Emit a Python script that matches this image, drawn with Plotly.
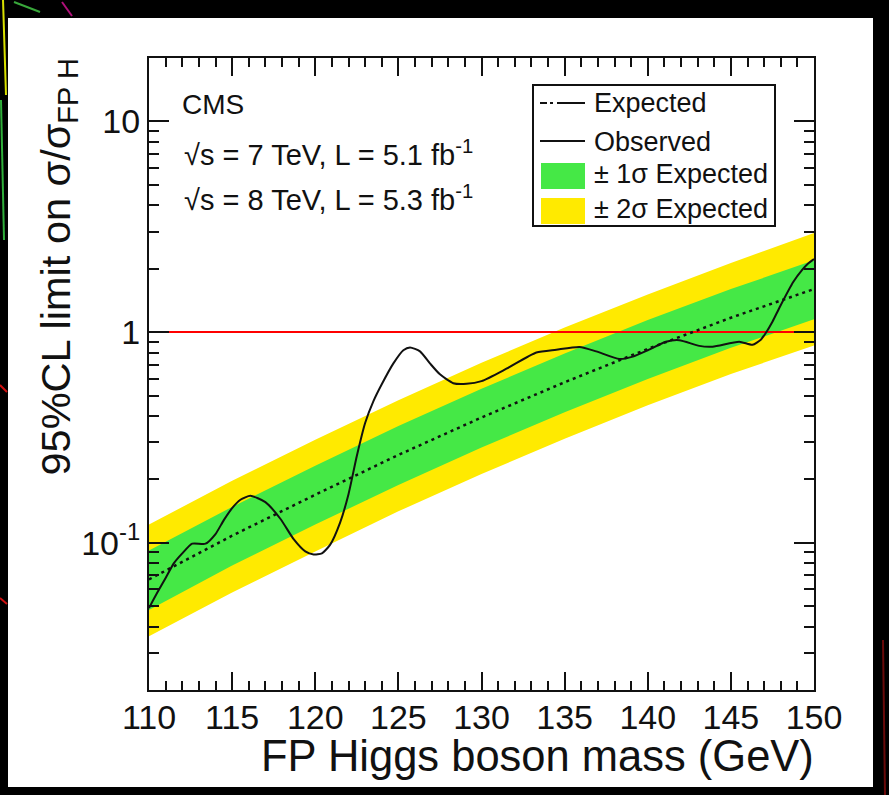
import plotly.graph_objects as go

# ---- data -------------------------------------------------------------
# expected limit (median) and its 1 / 2 sigma bands, every 5 GeV
mass_grid = [110, 115, 120, 125, 130, 135, 140, 145, 150]
exp_median = [0.067, 0.108, 0.169, 0.261, 0.393, 0.578, 0.832, 1.17, 1.60]
exp_p1 = [0.092, 0.148, 0.232, 0.358, 0.538, 0.792, 1.14, 1.60, 2.19]
exp_m1 = [0.048, 0.078, 0.122, 0.188, 0.283, 0.416, 0.599, 0.842, 1.15]
exp_p2 = [0.122, 0.197, 0.308, 0.475, 0.715, 1.05, 1.51, 2.13, 2.95]
exp_m2 = [0.036, 0.058, 0.091, 0.141, 0.212, 0.312, 0.449, 0.632, 0.864]

# observed limit
obs_mass = [110.0, 110.5, 111.0, 111.5, 112.0, 112.6, 113.4, 114.0, 114.5,
            115.0, 115.5, 116.1, 117.0, 117.9, 118.7, 119.4, 119.9, 120.4,
            120.9, 121.5, 122.0, 122.5, 123.0, 123.5, 124.0, 124.7, 125.3,
            125.7, 126.3, 126.9, 127.5, 128.3, 129.1, 130.0, 131.5, 133.3,
            134.5, 135.9, 136.9, 138.3, 139.1, 140.0, 141.1, 141.9, 143.1,
            143.9, 145.5, 146.3, 146.8, 147.1, 147.5, 147.95, 148.75, 149.3,
            149.6, 150.0]
obs_limit = [0.049, 0.058, 0.068, 0.080, 0.089, 0.099, 0.099, 0.110, 0.128,
             0.146, 0.160, 0.167, 0.156, 0.130, 0.104, 0.091, 0.088, 0.089,
             0.098, 0.125, 0.170, 0.258, 0.37, 0.47, 0.565, 0.71, 0.82,
             0.845, 0.81, 0.71, 0.63, 0.572, 0.568, 0.585, 0.67, 0.80,
             0.825, 0.85, 0.81, 0.745, 0.765, 0.82, 0.90, 0.915, 0.86,
             0.853, 0.90, 0.87, 0.92, 0.99, 1.12, 1.32, 1.73, 1.98,
             2.10, 2.22]

sm_ref_mass = [110, 150]
sm_ref_value = [1.0, 1.0]

x_ticks = [110, 115, 120, 125, 130, 135, 140, 145, 150]
y_tick_vals = [0.1, 1, 10]
y_tick_text = ["10<sup>-1</sup>", "1", "10"]
y_minor_vals = [0.02, 0.03, 0.04, 0.05, 0.06, 0.07, 0.08, 0.09,
                0.2, 0.3, 0.4, 0.5, 0.6, 0.7, 0.8, 0.9,
                2, 3, 4, 5, 6, 7, 8, 9, 20]

# ---- styling ----------------------------------------------------------
FONT = "Liberation Sans, Arial, Helvetica, sans-serif"
INK = "#111111"
GREEN = "#45e846"
YELLOW = "#ffea00"

W, H = 889, 795
L, R, T, B = 149, 814, 58, 690      # plot frame in pixels


def px(xp):
    return (xp - L) / (R - L)


def py(yp):
    return (B - yp) / (B - T)


fig = go.Figure()

# 2 sigma band
fig.add_trace(go.Scatter(x=mass_grid, y=exp_m2, mode="lines",
                         line=dict(width=0), hoverinfo="skip", showlegend=False))
fig.add_trace(go.Scatter(x=mass_grid, y=exp_p2, mode="lines", fill="tonexty",
                         fillcolor=YELLOW, line=dict(width=0), showlegend=False))
# 1 sigma band
fig.add_trace(go.Scatter(x=mass_grid, y=exp_m1, mode="lines",
                         line=dict(width=0), hoverinfo="skip", showlegend=False))
fig.add_trace(go.Scatter(x=mass_grid, y=exp_p1, mode="lines", fill="tonexty",
                         fillcolor=GREEN, line=dict(width=0), showlegend=False))
# SM reference
fig.add_trace(go.Scatter(x=sm_ref_mass, y=sm_ref_value, mode="lines",
                         line=dict(color="#ff0000", width=2), showlegend=False))
# expected median
fig.add_trace(go.Scatter(x=mass_grid, y=exp_median, mode="lines",
                         line=dict(color=INK, width=2.5, dash="3px,4px"),
                         showlegend=False))
# observed
fig.add_trace(go.Scatter(x=obs_mass, y=obs_limit, mode="lines",
                         line=dict(color=INK, width=2, shape="spline", smoothing=0.6),
                         showlegend=False))

axis_common = dict(
    showline=True, linecolor=INK, linewidth=2, mirror="allticks",
    ticks="inside", tickwidth=2, tickcolor=INK, showgrid=False, zeroline=False,
    tickfont=dict(family=FONT, size=34, color=INK),
)

fig.update_xaxes(
    range=[110, 150], tickmode="array", tickvals=x_ticks, ticklen=18,
    ticklabelstandoff=-4,
    minor=dict(ticks="inside", dtick=1, ticklen=9, tickwidth=2, tickcolor=INK),
    **axis_common,
)
fig.update_yaxes(
    type="log", range=[-1.69897, 1.30103], tickmode="array",
    tickvals=y_tick_vals, ticktext=y_tick_text, ticklen=20,
    minor=dict(ticks="inside", tickmode="array", tickvals=y_minor_vals,
               ticklen=10, tickwidth=2, tickcolor=INK),
    **axis_common,
)

shapes = [
    # white slide panel
    dict(type="rect", xref="paper", yref="paper", x0=px(8), x1=px(873),
         y0=py(787), y1=py(18), fillcolor="white", line=dict(width=0), layer="below"),
    # legend frame
    dict(type="rect", xref="paper", yref="paper", x0=px(533), x1=px(775),
         y0=py(226), y1=py(85), fillcolor="white", line=dict(color=INK, width=2)),
    dict(type="line", xref="paper", yref="paper", x0=px(540), x1=px(585),
         y0=py(103), y1=py(103), line=dict(color=INK, width=2, dash="7px,3px,3px,4px,28px")),
    dict(type="line", xref="paper", yref="paper", x0=px(540), x1=px(585),
         y0=py(141), y1=py(141), line=dict(color=INK, width=2)),
    dict(type="rect", xref="paper", yref="paper", x0=px(541), x1=px(585),
         y0=py(189), y1=py(163), fillcolor=GREEN, line=dict(width=0)),
    dict(type="rect", xref="paper", yref="paper", x0=px(541), x1=px(585),
         y0=py(224), y1=py(198), fillcolor=YELLOW, line=dict(width=0)),
]

# stray strokes of the slide behind the panel
deco = [
    ((3, 0), (6, 95), "#d8e000"), ((1, 100), (4, 240), "#2fae3a"),
    ((0, 385), (7, 392), "#d01010"), ((0, 598), (7, 604), "#d01010"),
    ((14, 2), (40, 12), "#39a83b"), ((62, 2), (72, 16), "#b0107a"),
    ((883, 640), (885, 795), "#6a0a0a"),
]
for (x0, y0), (x1, y1), c in deco:
    shapes.append(dict(type="line", xref="paper", yref="paper", x0=px(x0), x1=px(x1),
                       y0=py(y0), y1=py(y1), line=dict(color=c, width=2), layer="below"))

fig.update_layout(shapes=shapes)

ann = [
    dict(text="CMS", x=px(180), y=py(104), size=28),
    dict(text="√s = 7 TeV, L = 5.1 fb<sup>-1</sup>", x=px(182), y=py(153), size=29),
    dict(text="√s = 8 TeV, L = 5.3 fb<sup>-1</sup>", x=px(182), y=py(198), size=29),
    dict(text="Expected", x=px(592), y=py(103), size=27),
    dict(text="Observed", x=px(592), y=py(142), size=27),
    dict(text="± 1σ Expected", x=px(592), y=py(174), size=27),
    dict(text="± 2σ Expected", x=px(592), y=py(209), size=27),
]
for a in ann:
    fig.add_annotation(text=a["text"], x=a["x"], y=a["y"], xref="paper", yref="paper",
                       xanchor="left", yanchor="middle", showarrow=False,
                       font=dict(family=FONT, size=a["size"], color=INK))

fig.add_annotation(text="FP Higgs boson mass (GeV)", x=px(816), y=py(756),
                   xref="paper", yref="paper", xanchor="right", yanchor="middle",
                   showarrow=False, font=dict(family=FONT, size=43.5, color=INK))
fig.add_annotation(text="95%CL limit on σ/σ<sub>FP H</sub>", x=px(58), y=py(57),
                   xref="paper", yref="paper", xanchor="center", yanchor="top",
                   textangle=-90, showarrow=False,
                   font=dict(family=FONT, size=41.5, color=INK))

fig.update_layout(
    width=W, height=H,
    margin=dict(l=L, r=W - R, t=T, b=H - B),
    paper_bgcolor="black", plot_bgcolor="white",
    showlegend=False,
)

fig.write_html("out.html")
